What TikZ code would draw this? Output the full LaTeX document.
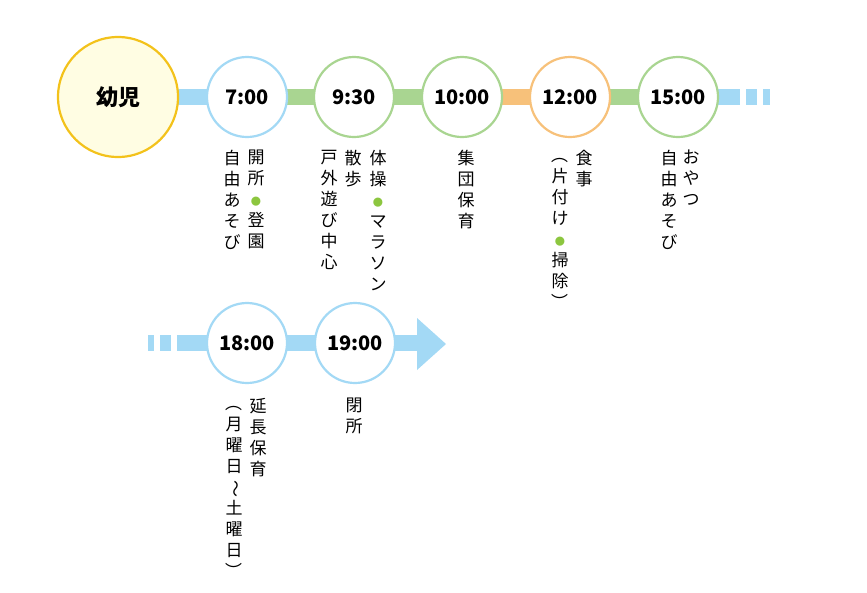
\documentclass[tikz,border=0pt]{standalone}
\usepackage{fontspec}
\setmainfont{Noto Sans CJK JP}
\newfontfamily\boldcjk[BoldFont={Noto Sans CJK JP Bold}]{Noto Sans CJK JP}
\definecolor{lblue}{HTML}{A3D9F5}
\definecolor{lgreen}{HTML}{A9D591}
\definecolor{lorange}{HTML}{F7C17A}
\definecolor{yel}{HTML}{F3C21B}
\definecolor{yelfill}{HTML}{FFFDE3}
\definecolor{dotg}{HTML}{8CC63F}
\newcommand{\gdot}{{\color{dotg}\scalebox{0.6}{●}}}
\newcommand{\vpo}{\rotatebox[origin=c]{-90}{（}}
\newcommand{\vpc}{\rotatebox[origin=c]{-90}{）}}
\newcommand{\vti}{\rotatebox[origin=c]{-90}{～}}
\begin{document}
\begin{tikzpicture}[x=1pt,y=-1pt,
  tc/.style={circle,draw,line width=2.2pt,fill=white,minimum size=80pt,inner sep=0,font=\fontsize{20}{22}\selectfont\bfseries},
  bar/.style={line width=16pt},
  vt/.style={anchor=north,align=center,inner sep=0,font=\fontsize{17}{21}\selectfont}]
\useasboundingbox (0,0) rectangle (867,592);
% bars row 1
\draw[bar,lblue] (118,97) -- (247,97);
\draw[bar,lgreen] (247,97) -- (462,97);
\draw[bar,lorange] (462,97) -- (570,97);
\draw[bar,lgreen] (570,97) -- (678,97);
\draw[bar,lblue] (678,97) -- (740,97);
\draw[bar,lblue] (746,97) -- (757,97);
\draw[bar,lblue] (763,97) -- (770,97);
% bars row 2
\draw[bar,lblue] (148,343) -- (154,343);
\draw[bar,lblue] (160,343) -- (171,343);
\draw[bar,lblue] (177,343) -- (418,343);
\fill[lblue] (417,318) -- (446,344) -- (417,370) -- cycle;
% circles
\node[circle,draw=yel,fill=yelfill,line width=2.2pt,minimum size=120pt,inner sep=0,font=\fontsize{22}{24}\selectfont\bfseries] (kid) at (118,97) {幼児};
\node[tc,draw=lblue] (t700) at (247,97) {7:00};
\node[tc,draw=lgreen] (t930) at (354,97) {9:30};
\node[tc,draw=lgreen] (t1000) at (462,97) {10:00};
\node[tc,draw=lorange] (t1200) at (570,97) {12:00};
\node[tc,draw=lgreen] (t1500) at (678,97) {15:00};
\node[tc,draw=lblue] (t1800) at (247,343) {18:00};
\node[tc,draw=lblue] (t1900) at (355,343) {19:00};
% texts
\node[vt] (a1) at (256,150) {開\\所\\\gdot\\登\\園};
\node[vt] (a2) at (232,150) {自\\由\\あ\\そ\\び};
\node[vt] (b1) at (378,150) {体\\操\\\gdot\\マ\\ラ\\ソ\\ン};
\node[vt] (b2) at (353,150) {散\\歩};
\node[vt] (b3) at (329,150) {戸\\外\\遊\\び\\中\\心};
\node[vt] (c1) at (466,150) {集\\団\\保\\育};
\node[vt] (d1) at (584,150) {食\\事};
\node[vt] (d2) at (560,146) {\vpo\\片\\付\\け\\\gdot\\掃\\除\\\vpc};
\node[vt] (e1) at (691,150) {お\\や\\つ};
\node[vt] (e2) at (669,150) {自\\由\\あ\\そ\\び};
\node[vt] (f1) at (258,398) {延\\長\\保\\育};
\node[vt] (f2) at (234,394) {\vpo\\月\\曜\\日\\\vti\\土\\曜\\日\\\vpc};
\node[vt] (g1) at (354,398) {閉\\所};
\end{tikzpicture}
\end{document}
